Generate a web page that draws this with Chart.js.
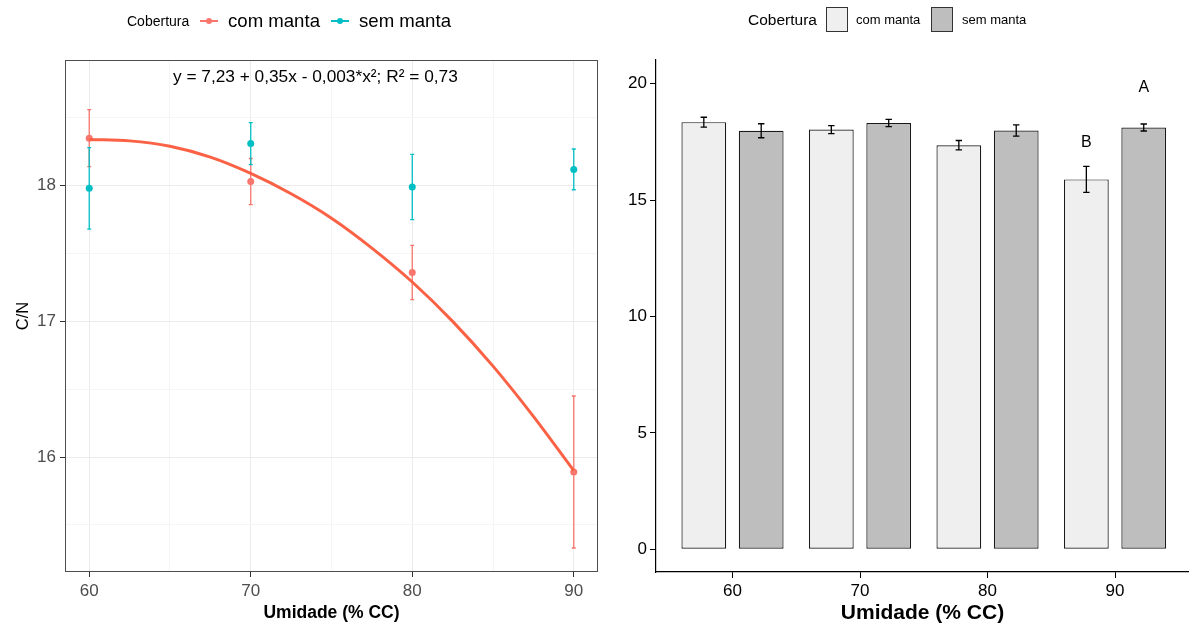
<!DOCTYPE html>
<html>
<head>
<meta charset="utf-8">
<script src="https://cdn.jsdelivr.net/npm/chart.js@4.4.1/dist/chart.umd.min.js"></script>
<style>
  body { margin: 0; background: #fff; width: 1189px; height: 626px; overflow: hidden; position: relative;
         font-family: "Liberation Sans", Arial, sans-serif; }
  #left { position: absolute; left: 0; top: 0; }
  #right { position: absolute; left: 602px; top: 0; }
</style>
</head>
<body>
<canvas id="left" width="602" height="626"></canvas>
<canvas id="right" width="587" height="626"></canvas>
<script>
// data
const umidade = [60, 70, 80, 90];
const series = ["com manta", "sem manta"];
const comManta = [18.35, 18.03, 17.36, 15.89];
const comMantaSE = [0.21, 0.17, 0.20, 0.56];
const semManta = [17.98, 18.31, 17.99, 18.12];
const semMantaSE = [0.30, 0.155, 0.24, 0.15];

// quadratic fit line (com manta)
const curveX = [60, 62.5, 65, 67.5, 70, 72.5, 75, 77.5, 80, 82.5, 85, 87.5, 90];
const curveY = [18.34, 18.33, 18.29, 18.21, 18.09, 17.94, 17.76, 17.54, 17.29, 17.00, 16.67, 16.30, 15.90];
const equation = "y = 7,23 + 0,35x - 0,003*x²; R² = 0,73";

// tick labels
const leftXTicks = [60, 65, 70, 75, 80, 85, 90];
const leftXMajor = [60, 70, 80, 90];
const leftYTicks = [15.5, 16, 16.5, 17, 17.5, 18, 18.5];
const leftYMajor = [16, 17, 18];
const rightYTicks = [0, 5, 10, 15, 20];

// Tukey letters on the bar chart
const letters = ["B", "A"];
const letterSeries = [0, 1];
const letterAt = [90, 90];
const letterY = [17.47, 19.85];

const colors = ["#F8766D", "#00BFC4"];
const barFill = ["#EFEFEF", "#BEBEBE"];

Chart.defaults.font.family = '"Liberation Sans", Arial, sans-serif';

function drawErrorBars(chart, cap, width, colorFor) {
  const ctx = chart.ctx;
  const ys = chart.scales.y;
  chart.data.datasets.forEach((ds, di) => {
    if (!ds.se) return;
    const meta = chart.getDatasetMeta(di);
    meta.data.forEach((el, i) => {
      const v = ds.data[i].y;
      const top = ys.getPixelForValue(v + ds.se[i]);
      const bot = ys.getPixelForValue(v - ds.se[i]);
      ctx.save();
      ctx.strokeStyle = colorFor(di);
      ctx.lineWidth = width;
      ctx.beginPath();
      ctx.moveTo(el.x, top); ctx.lineTo(el.x, bot);
      ctx.moveTo(el.x - cap, top); ctx.lineTo(el.x + cap, top);
      ctx.moveTo(el.x - cap, bot); ctx.lineTo(el.x + cap, bot);
      ctx.stroke();
      ctx.restore();
    });
  });
}

// ---------- left: points + fit ----------
new Chart(document.getElementById("left"), {
  type: "scatter",
  data: {
    datasets: [
      {
        label: "ajuste",
        data: curveX.map((x, i) => ({ x, y: curveY[i] })),
        showLine: true,
        borderColor: "#FA6145",
        borderWidth: 3,
        pointRadius: 0,
        cubicInterpolationMode: "monotone",
        order: 0,
      },
      {
        label: series[0],
        data: umidade.map((x, i) => ({ x, y: comManta[i] })),
        se: comMantaSE,
        backgroundColor: colors[0],
        borderWidth: 0,
        pointRadius: 3.5,
        order: 1,
      },
      {
        label: series[1],
        data: umidade.map((x, i) => ({ x, y: semManta[i] })),
        se: semMantaSE,
        backgroundColor: colors[1],
        borderWidth: 0,
        pointRadius: 3.5,
        order: 2,
      },
    ],
  },
  options: {
    responsive: false,
    animation: false,
    devicePixelRatio: 1,
    layout: { padding: { top: 60, right: 0, left: 0, bottom: 0 } },
    plugins: { legend: { display: false }, tooltip: { enabled: false } },
    scales: {
      x: {
        type: "linear",
        min: 58.5,
        max: 91.5,
        afterBuildTicks: (s) => { s.ticks = leftXTicks.map((v) => ({ value: v })); },
        afterFit: (s) => { s.height = 54; },
        border: { display: false },
        grid: {
          color: (c) => (leftXMajor.includes(c.tick.value) ? "#EBEBEB" : "#F5F5F5"),
          tickColor: (c) => (leftXMajor.includes(c.tick.value) ? "#333333" : "rgba(0,0,0,0)"),
          tickLength: 5,
        },
        ticks: {
          autoSkip: false, maxRotation: 0, padding: 4, color: "#4D4D4D", font: { size: 17 },
          callback: (v) => (leftXMajor.includes(v) ? String(v) : ""),
        },
        title: { display: true, text: "Umidade (% CC)", color: "#000", font: { size: 17.5, weight: "bold" }, padding: { top: 0, bottom: 2 } },
      },
      y: {
        min: 15.153,
        max: 18.926,
        afterBuildTicks: (s) => { s.ticks = leftYTicks.map((v) => ({ value: v })); },
        afterFit: (s) => { s.width = 65; },
        border: { display: false },
        grid: {
          color: (c) => (leftYMajor.includes(c.tick.value) ? "#EBEBEB" : "#F5F5F5"),
          tickColor: (c) => (leftYMajor.includes(c.tick.value) ? "#333333" : "rgba(0,0,0,0)"),
          tickLength: 5,
        },
        ticks: {
          autoSkip: false, padding: 4, color: "#4D4D4D", font: { size: 17 },
          callback: (v) => (leftYMajor.includes(v) ? String(v) : ""),
        },
        title: { display: true, text: "C/N", color: "#000", font: { size: 16.5 }, padding: { top: 14, bottom: 0 } },
      },
    },
  },
  plugins: [{
    id: "leftExtras",
    beforeDatasetsDraw(chart) {
      drawErrorBars(chart, 2, 1.3, (di) => colors[di - 1]);
    },
    afterDraw(chart) {
      const { ctx, chartArea: a, scales } = chart;
      ctx.save();
      ctx.strokeStyle = "#4D4D4D";
      ctx.lineWidth = 1;
      ctx.strokeRect(a.left + 0.5, a.top + 0.5, a.right - a.left - 1, a.bottom - a.top - 1);
      ctx.fillStyle = "#000";
      ctx.font = '17.3px "Liberation Sans", Arial, sans-serif';
      ctx.textAlign = "center";
      ctx.textBaseline = "middle";
      ctx.fillText(equation, scales.x.getPixelForValue(74), scales.y.getPixelForValue(18.8));
      ctx.restore();
    },
  }],
});

// ---------- right: bars ----------
new Chart(document.getElementById("right"), {
  type: "bar",
  data: {
    datasets: [0, 1].map((k) => ({
      label: series[k],
      data: umidade.map((x, i) => ({ x, y: (k === 0 ? comManta : semManta)[i] })),
      se: k === 0 ? comMantaSE : semMantaSE,
      backgroundColor: barFill[k],
      borderColor: "#1A1A1A",
      borderWidth: 1.2,
      borderSkipped: false,
    })),
  },
  options: {
    responsive: false,
    animation: false,
    devicePixelRatio: 1,
    layout: { padding: { top: 60, right: 0, left: 0, bottom: 0 } },
    datasets: { bar: { categoryPercentage: 0.9, barPercentage: 0.78 } },
    plugins: { legend: { display: false }, tooltip: { enabled: false } },
    scales: {
      x: {
        type: "linear",
        offset: false,
        min: 54,
        max: 95.8,
        afterBuildTicks: (s) => { s.ticks = umidade.map((v) => ({ value: v })); },
        afterFit: (s) => { s.height = 54; },
        border: { display: true, color: "#000", width: 1.2 },
        grid: { offset: false, drawOnChartArea: false, tickLength: 6, tickColor: "#000" },
        ticks: { autoSkip: false, maxRotation: 0, padding: 3, color: "#000", font: { size: 17 } },
        title: { display: true, text: "Umidade (% CC)", color: "#000", font: { size: 21, weight: "bold" }, padding: { top: 0, bottom: 0 } },
      },
      y: {
        min: -0.98,
        max: 21.02,
        afterBuildTicks: (s) => { s.ticks = rightYTicks.map((v) => ({ value: v })); },
        afterFit: (s) => { s.width = 54; },
        border: { display: true, color: "#000", width: 1.2 },
        grid: { drawOnChartArea: false, tickLength: 6, tickColor: "#000" },
        ticks: { autoSkip: false, padding: 3, color: "#000", font: { size: 17 } },
      },
    },
  },
  plugins: [{
    id: "rightExtras",
    afterDatasetsDraw(chart) {
      drawErrorBars(chart, 3.2, 1.3, () => "#000");
      const ctx = chart.ctx;
      ctx.save();
      ctx.fillStyle = "#000";
      ctx.font = '16px "Liberation Sans", Arial, sans-serif';
      ctx.textAlign = "center";
      ctx.textBaseline = "middle";
      letters.forEach((t, k) => {
        const el = chart.getDatasetMeta(letterSeries[k]).data[umidade.indexOf(letterAt[k])];
        ctx.fillText(t, el.x, chart.scales.y.getPixelForValue(letterY[k]));
      });
      ctx.restore();
    },
  }],
});

// ---------- legends (html) ----------
function addText(txt, left, cy, size) {
  const s = document.createElement("span");
  s.textContent = txt;
  s.style.cssText = `position:absolute;left:${left}px;top:${cy - size * 0.6}px;font-size:${size}px;line-height:${size * 1.2}px;color:#000;white-space:nowrap`;
  document.body.appendChild(s);
}
function addBox(css) {
  const d = document.createElement("div");
  d.style.cssText = "position:absolute;box-sizing:border-box;" + css;
  document.body.appendChild(d);
}

addText("Cobertura", 127, 21, 14);
[200, 331].forEach((x, k) => {
  addBox(`left:${x}px;top:20px;width:18px;height:1.5px;background:${colors[k]}`);
  addBox(`left:${x + 6}px;top:18px;width:6px;height:6px;border-radius:50%;background:${colors[k]}`);
  addText(series[k], [228, 359][k], 21, 18.6);
});

addText("Cobertura", 748, 20, 15.5);
[826, 931].forEach((x, k) => {
  addBox(`left:${x}px;top:7px;width:22px;height:25px;background:${barFill[k]};border:1.2px solid #333`);
  addText(series[k], [856, 962][k], 20, 13);
});
</script>
</body>
</html>
